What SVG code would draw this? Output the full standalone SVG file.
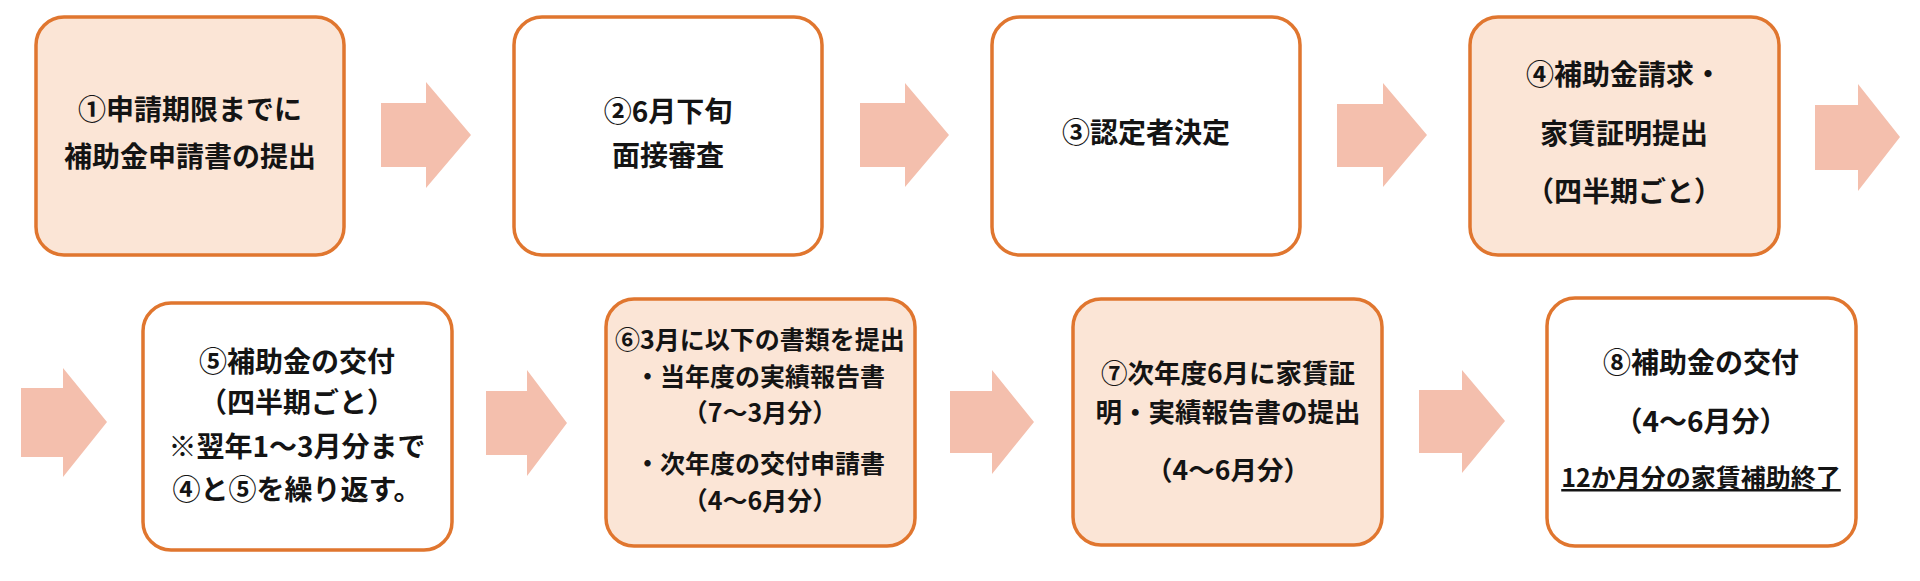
<svg xmlns="http://www.w3.org/2000/svg" width="1920" height="581" viewBox="0 0 1920 581">
<style>
.box{stroke:#E0762F;stroke-width:3.5}
.fillA{fill:#FBE5D6}
.fillB{fill:#FFFFFF}
.arrow{fill:#F4BFAD}
text{font-family:"Noto Sans CJK JP","Noto Sans CJK SC",sans-serif;font-weight:bold;fill:#141414;text-anchor:middle}
.t28{font-size:28px}
.t26{font-size:26.5px}
.t25{font-size:25px}
</style>
<rect width="1920" height="581" fill="#FFFFFF"/>
<g id="connectors">
<polygon class="arrow" points="381,103 426,103 426,82 471,135 426,188 426,167 381,167"/>
<polygon class="arrow" points="860,103 905,103 905,83 949,135 905,187 905,167 860,167"/>
<polygon class="arrow" points="1337,104 1383,104 1383,83 1427,135 1383,187 1383,167 1337,167"/>
<polygon class="arrow" points="1815,105 1858,105 1858,84 1900,137 1858,191 1858,170 1815,170"/>
<polygon class="arrow" points="21,388 63,388 63,368 107,422 63,477 63,457 21,457"/>
<polygon class="arrow" points="486,391 527,391 527,370 567,423 527,476 527,455 486,455"/>
<polygon class="arrow" points="950,391 992,391 992,370 1034,422 992,474 992,453 950,453"/>
<polygon class="arrow" points="1419,390 1462,390 1462,370 1505,421 1462,473 1462,453 1419,453"/>
</g>
<g id="node1">
<rect class="box fillA" x="36" y="17" width="308" height="238" rx="28"/>
<text class="t28" x="190" y="120">①申請期限までに</text>
<text class="t28" x="190" y="167">補助金申請書の提出</text>
</g>
<g id="node2">
<rect class="box fillB" x="514" y="17" width="308" height="238" rx="28"/>
<text class="t28" x="668" y="122">②6月下旬</text>
<text class="t28" x="668" y="166">面接審査</text>
</g>
<g id="node3">
<rect class="box fillB" x="992" y="17" width="308" height="238" rx="28"/>
<text class="t28" x="1146" y="143">③認定者決定</text>
</g>
<g id="node4">
<rect class="box fillA" x="1470" y="17" width="309" height="238" rx="28"/>
<text class="t28" x="1624" y="85">④補助金請求・</text>
<text class="t28" x="1624" y="144">家賃証明提出</text>
<text class="t28" x="1624" y="202">（四半期ごと）</text>
</g>
<g id="node5">
<rect class="box fillB" x="143" y="303" width="309" height="247" rx="28"/>
<text class="t28" x="297" y="372">⑤補助金の交付</text>
<text class="t28" x="297" y="413">（四半期ごと）</text>
<text class="t28" x="297" y="457">※翌年1～3月分まで</text>
<text class="t28" x="297" y="500">④と⑤を繰り返す。</text>
</g>
<g id="node6">
<rect class="box fillA" x="606" y="299" width="309" height="247" rx="28"/>
<text class="t25" x="760" y="349">⑥3月に以下の書類を提出</text>
<text class="t25" x="760" y="386">・当年度の実績報告書</text>
<text class="t25" x="760" y="422">（7～3月分）</text>
<text class="t25" x="760" y="473">・次年度の交付申請書</text>
<text class="t25" x="760" y="510">（4～6月分）</text>
</g>
<g id="node7">
<rect class="box fillA" x="1073" y="299" width="309" height="246" rx="28"/>
<text class="t26" x="1228" y="383">⑦次年度6月に家賃証</text>
<text class="t26" x="1228" y="422">明・実績報告書の提出</text>
<text class="t26" x="1228" y="480">（4～6月分）</text>
</g>
<g id="node8">
<rect class="box fillB" x="1547" y="298" width="309" height="248" rx="28"/>
<text class="t28" x="1701" y="373">⑧補助金の交付</text>
<text class="t28" x="1701" y="432">（4～6月分）</text>
<text class="t25" x="1701" y="487" text-decoration="underline">12か月分の家賃補助終了</text>
</g>
</svg>
